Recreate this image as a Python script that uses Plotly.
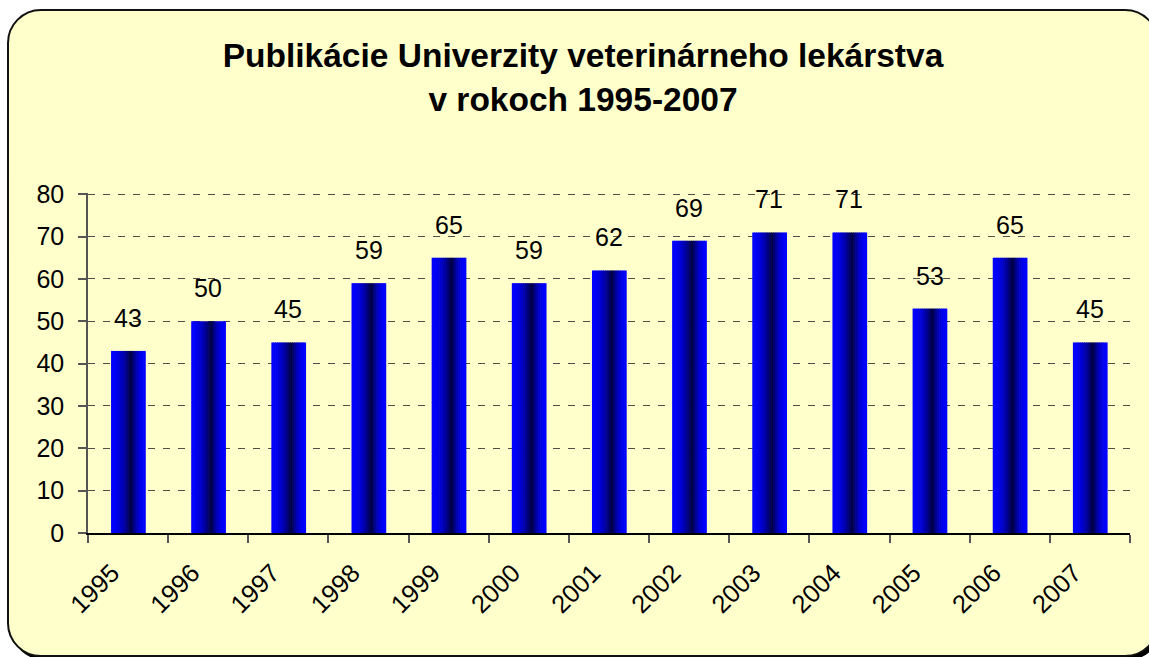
import plotly.graph_objects as go

years = ["1995", "1996", "1997", "1998", "1999", "2000", "2001",
         "2002", "2003", "2004", "2005", "2006", "2007"]
publications = [43, 50, 45, 59, 65, 59, 62, 69, 71, 71, 53, 65, 45]
y_ticks = [0, 10, 20, 30, 40, 50, 60, 70, 80]

title_line1 = "Publikácie Univerzity veterinárneho lekárstva"
title_line2 = "v rokoch 1995-2007"

W, H = 1149, 657
Y_TOP = 80.3
ML, MR, MB = 88, 19, 124
MT = 194 - round((Y_TOP - 80) * 339 / 80)
PW, PH = W - ML - MR, H - MT - MB
FONT = "Liberation Sans, Arial, sans-serif"
BG = "#FFFFCC"


def px(x):
    return (x - ML) / PW


def py(y):
    return (H - MB - y) / PH


def rounded_rect(x0, y0, x1, y1, r):
    k = 0.5523 * r
    pts = [
        f"M {px(x0 + r)},{py(y0)}",
        f"L {px(x1 - r)},{py(y0)}",
        f"C {px(x1 - r + k)},{py(y0)} {px(x1)},{py(y0 + r - k)} {px(x1)},{py(y0 + r)}",
        f"L {px(x1)},{py(y1 - r)}",
        f"C {px(x1)},{py(y1 - r + k)} {px(x1 - r + k)},{py(y1)} {px(x1 - r)},{py(y1)}",
        f"L {px(x0 + r)},{py(y1)}",
        f"C {px(x0 + r - k)},{py(y1)} {px(x0)},{py(y1 - r + k)} {px(x0)},{py(y1 - r)}",
        f"L {px(x0)},{py(y0 + r)}",
        f"C {px(x0)},{py(y0 + r - k)} {px(x0 + r - k)},{py(y0)} {px(x0 + r)},{py(y0)}",
        "Z",
    ]
    return " ".join(pts)


fig = go.Figure()

# Bars with horizontal gradient, built from thin slices
BAR_W = 0.425
N = 18
step = BAR_W / N
t_dark = 0.58
for i in range(N):
    t = (i + 0.5) / N
    if t < t_dark:
        d = t / t_dark
    else:
        d = (1 - t) / (1 - t_dark)
    d = max(0.0, min(1.0, d)) ** 1.8
    b = int(round(255 - d * (255 - 64)))
    col = f"rgb(0,0,{b})"
    fig.add_trace(go.Bar(
        x=years, y=publications,
        width=step * 1.35,
        offset=-BAR_W / 2 + i * step,
        marker=dict(color=col, line=dict(width=0)),
        showlegend=False, hoverinfo="skip",
    ))

annotations = [
    dict(x=i, y=v, xref="x", yref="y", text=str(v), showarrow=False,
         yanchor="bottom", yshift=17,
         font=dict(family=FONT, size=25, color="black"))
    for i, v in enumerate(publications)
]

shapes = [
    dict(type="path", xref="paper", yref="paper", layer="below",
         path=rounded_rect(11, 13, 1161, 660, 33),
         fillcolor="black", line=dict(width=0)),
    dict(type="path", xref="paper", yref="paper", layer="below",
         path=rounded_rect(8, 10, 1158, 656, 33),
         fillcolor=BG, line=dict(color="#111111", width=2)),
]

fig.update_layout(
    width=W, height=H,
    margin=dict(l=ML, r=MR, t=MT, b=MB, pad=0),
    paper_bgcolor="white",
    plot_bgcolor="rgba(0,0,0,0)",
    barmode="overlay",
    title=dict(
        text=f"<b>{title_line1}</b><br><b>{title_line2}</b>",
        font=dict(family=FONT, size=33.5, color="black"),
        x=583 / W, xanchor="center", xref="container",
        y=1 - 67 / H, yanchor="top", yref="container",
    ),
    xaxis=dict(
        type="category", categoryorder="array", categoryarray=years,
        range=[-0.5, len(years) - 0.5],
        tickangle=-45, tickson="boundaries",
        ticks="outside", ticklen=8, tickcolor="#555555", tickwidth=1.5,
        showline=True, linecolor="black", linewidth=1.5,
        showgrid=False,
        ticklabelstandoff=13, ticklabelshift=-16,
        tickfont=dict(family=FONT, size=25.5, color="black"),
    ),
    yaxis=dict(
        range=[0, Y_TOP], tickvals=y_ticks,
        ticks="outside", ticklen=8, tickcolor="#555555", tickwidth=1.5,
        showline=True, linecolor="#555555", linewidth=1.5,
        showgrid=True, gridcolor="#505048", gridwidth=1.4, griddash="7px,8px",
        zeroline=False,
        ticklabelstandoff=9,
        tickfont=dict(family=FONT, size=25, color="black"),
    ),
    annotations=annotations,
    shapes=shapes,
)

fig.write_html("out.html", config={"displayModeBar": False},
               post_script="document.body.style.margin='0px';")
